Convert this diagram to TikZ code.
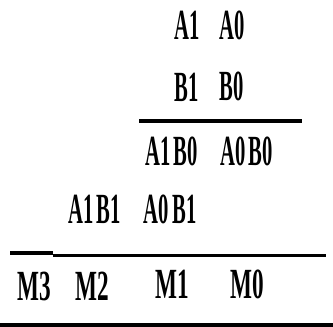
\documentclass[tikz,border=0pt]{standalone}
\usepackage{graphicx}
\usepackage{fontspec}
\setmainfont{Liberation Serif}
\newcommand{\cnd}[1]{\scalebox{0.48}[1]{#1}}
\newcommand{\cndm}[1]{\scalebox{0.54}[1]{#1}}
\begin{document}
\begin{tikzpicture}[x=1pt,y=-1pt,
  lbl/.style={inner sep=0pt,font=\fontsize{43}{45}\selectfont\bfseries},
  rule/.style={line width=3.5pt}]
\useasboundingbox (0,0) rectangle (333,327);
\node[lbl] (a1) at (187.5,25) {\cnd{A1}};
\node[lbl] (a0) at (232,25) {\cnd{A0}};
\node[lbl] (b1) at (186.5,87.5) {\cnd{B1}};
\node[lbl] (b0) at (231.5,86) {\cnd{B0}};
\coordinate (l1s) at (139,121);
\coordinate (l1e) at (302,121);
\draw[rule] (l1s) -- (l1e);
\node[lbl] (a1b0) at (171.5,151) {\cnd{A1\,B0}};
\node[lbl] (a0b0) at (246.5,151) {\cnd{A0\,B0}};
\node[lbl] (a1b1) at (94.5,209) {\cnd{A1\,B1}};
\node[lbl] (a0b1) at (170,209) {\cnd{A0\,B1}};
\coordinate (l2a) at (10,253);
\coordinate (l2b) at (53,253);
\coordinate (l2c) at (53,255.5);
\coordinate (l2d) at (326,255.5);
\draw[rule] (l2a) -- (l2b);
\draw[rule] (l2c) -- (l2d);
\node[lbl] (m3) at (34,286) {\cndm{M3}};
\node[lbl] (m2) at (92,286) {\cndm{M2}};
\node[lbl] (m1) at (172,284) {\cndm{M1}};
\node[lbl] (m0) at (247.5,284) {\cndm{M0}};
\coordinate (l3s) at (0,325);
\coordinate (l3e) at (333,325);
\draw[line width=4pt] (l3s) -- (l3e);
\end{tikzpicture}
\end{document}
